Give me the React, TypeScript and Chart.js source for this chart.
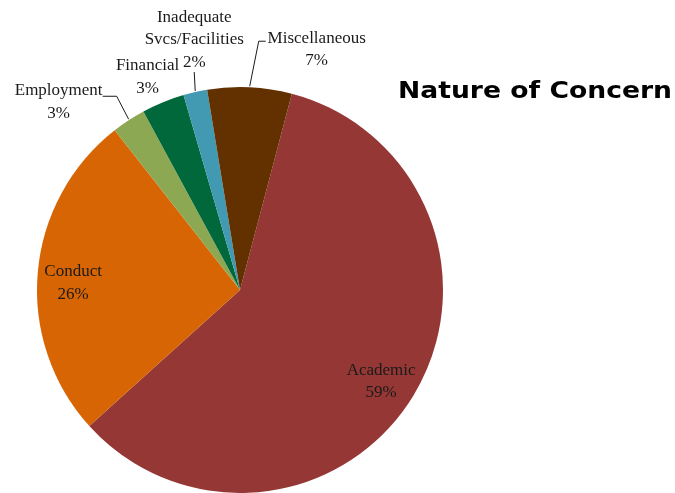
import React, { useEffect, useRef } from "react";
import { Chart, registerables } from "chart.js";

Chart.register(...registerables);

// ---- data ----
const categories = [
  "Academic",
  "Conduct",
  "Employment",
  "Financial",
  "Inadequate Svcs/Facilities",
  "Miscellaneous",
];
const labelLines = [
  ["Academic"],
  ["Conduct"],
  ["Employment"],
  ["Financial"],
  ["Inadequate", "Svcs/Facilities"],
  ["Miscellaneous"],
];
const values = [59.2, 26.1, 2.7, 3.4, 1.9, 6.7];
const colors = ["#953735", "#D86503", "#8DA853", "#00683A", "#4199B2", "#633100"];
const chartTitle = "Nature of Concern";

// ---- label layout (positions relative to slice geometry) ----
const labelLayout: any[] = [
  { inside: 0.82, dx: -1, dy: 5 },
  { inside: 0.82, dx: -1, dy: 7 },
  { dx: -70, dy: -18, leader: [[0, -1], [-12, -24], [-26, -24]] },
  { dx: -15.5, dy: -25, leader: null },
  { dx: -1, dy: -52, leader: [[0, -1], [-1, -20]] },
  { dx: 67, dy: -37.5, leader: [[0, -1], [9, -46], [16, -46]] },
];

const LABEL_FONT = '17px "Liberation Serif", "DejaVu Serif", serif';
const LINE_H = 22.5;
const TITLE_RIGHT = 672;
const TITLE_WIDTH = 274;

const labelPlugin = {
  id: "pieLabels",
  afterDatasetsDraw(chart: any) {
    const ctx = chart.ctx as CanvasRenderingContext2D;
    const meta = chart.getDatasetMeta(0);
    const total = values.reduce((a, b) => a + b, 0);
    ctx.save();
    ctx.font = LABEL_FONT;
    ctx.fillStyle = "#1a1a1a";
    ctx.strokeStyle = "#1a1a1a";
    ctx.lineWidth = 1;
    ctx.textAlign = "center";
    ctx.textBaseline = "middle";
    meta.data.forEach((arc: any, i: number) => {
      const p = arc.getProps(["x", "y", "startAngle", "endAngle", "outerRadius"], true);
      const mid = (p.startAngle + p.endAngle) / 2;
      const L: any = labelLayout[i];
      const pct = Math.round((values[i] / total) * 100) + "%";
      const lines = [...labelLines[i], pct];
      let cx: number, cy: number;
      if (L.inside !== undefined) {
        cx = p.x + Math.cos(mid) * p.outerRadius * L.inside + L.dx;
        cy = p.y + Math.sin(mid) * p.outerRadius * L.inside + L.dy;
      } else {
        const ex = p.x + Math.cos(mid) * p.outerRadius;
        const ey = p.y + Math.sin(mid) * p.outerRadius;
        cx = ex + L.dx;
        cy = ey + L.dy;
        if (L.leader) {
          ctx.beginPath();
          L.leader.forEach((pt: number[], k: number) => {
            if (k === 0) ctx.moveTo(ex + pt[0], ey + pt[1]);
            else ctx.lineTo(ex + pt[0], ey + pt[1]);
          });
          ctx.stroke();
        }
      }
      const n = lines.length;
      lines.forEach((t, k) => {
        ctx.fillText(t, cx, cy + (k - (n - 1) / 2) * LINE_H);
      });
    });
    // title
    ctx.font = 'bold 23px "DejaVu Sans", sans-serif';
    ctx.fillStyle = "#000000";
    ctx.textAlign = "left";
    ctx.textBaseline = "alphabetic";
    const w = ctx.measureText(chartTitle).width;
    const sx = TITLE_WIDTH / w;
    ctx.translate(TITLE_RIGHT - TITLE_WIDTH, 98);
    ctx.scale(sx, 1);
    ctx.fillText(chartTitle, 0, 0);
    ctx.restore();
  },
};

export default function App() {
  const ref = useRef<HTMLCanvasElement>(null);
  useEffect(() => {
    if (!ref.current) return;
    const chart = new Chart(ref.current, {
      type: "pie",
      data: {
        labels: categories,
        datasets: [
          {
            data: values,
            backgroundColor: colors,
            borderWidth: 0,
            hoverOffset: 0,
          },
        ],
      },
      options: {
        responsive: false,
        animation: false,
        rotation: 14.8,
        layout: { padding: { left: 37, right: 232, top: 87, bottom: 0 } },
        plugins: {
          legend: { display: false },
          tooltip: { enabled: false },
          title: { display: false },
        },
      },
      plugins: [labelPlugin],
    });
    return () => chart.destroy();
  }, []);
  return (
    <div style={{ position: "fixed", left: 0, top: 0, width: 675, height: 493, background: "#fff" }}>
      <canvas ref={ref} width={675} height={493} style={{ display: "block" }} />
    </div>
  );
}
